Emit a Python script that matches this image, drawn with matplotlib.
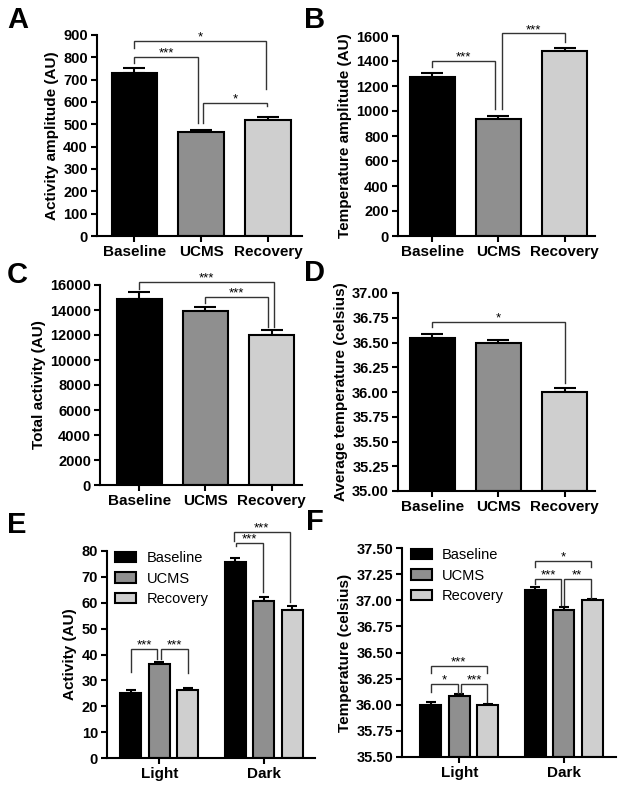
import numpy as np
import matplotlib.pyplot as plt

plt.rcParams['font.family'] = ['Liberation Sans', 'DejaVu Sans']
plt.rcParams['font.weight'] = 'bold'
plt.rcParams['axes.labelweight'] = 'bold'

# ---- data ----
groups = ['Baseline', 'UCMS', 'Recovery']
phases = ['Light', 'Dark']

act_amp = [728, 465, 520]
act_amp_err = [22, 8, 12]

temp_amp = [1275, 935, 1480]
temp_amp_err = [30, 25, 25]

act_total = [14900, 13900, 12000]
act_total_err = [550, 350, 400]

temp_avg = [36.55, 36.50, 36.00]
temp_avg_err = [0.035, 0.03, 0.04]

# per group: [Light, Dark]
act_phase = [[25.3, 75.7], [36.5, 60.6], [26.2, 57.2]]
act_phase_err = [[0.8, 1.7], [0.7, 1.6], [0.8, 1.6]]

temp_phase = [[36.00, 37.10], [36.085, 36.91], [36.00, 37.00]]
temp_phase_err = [[0.025, 0.025], [0.015, 0.025], [0.008, 0.008]]

# significance brackets: (x1, x2, y, leg1 bottom, leg2 bottom, label)
sig_a = [(0, 0.95, 801, 776, 505, '***'),
         (0, 1.97, 873, 841, 657, '*'),
         (1.03, 1.98, 596, 505, 582, '*')]
sig_b = [(0, 0.95, 1400, 1355, 1013, '***'),
         (1.06, 2.0, 1621, 1013, 1549, '***')]
sig_c = [(0, 2.04, 16270, 15650, 12670, '***'),
         (1.0, 1.94, 15070, 14590, 12670, '***')]
sig_d = [(0, 2.0, 36.71, 36.66, 36.09, '*')]
sig_e = [(-0.273, -0.02, 42.0, 33.4, 38.1, '***'),
         (0.015, 0.273, 42.0, 38.1, 32.7, '***'),
         (0.73, 0.995, 83.1, 81.9, 64.3, '***'),
         (0.715, 1.248, 87.3, 84.0, 60.4, '***')]
sig_f = [(-0.275, -0.012, 36.196, 36.125, 36.11, '*'),
         (0.014, 0.269, 36.196, 36.11, 36.03, '***'),
         (-0.275, 0.265, 36.37, 36.30, 36.30, '***'),
         (0.72, 0.977, 37.20, 37.16, 36.955, '***'),
         (1.002, 1.257, 37.20, 36.955, 37.025, '**'),
         (0.72, 1.265, 37.378, 37.32, 37.32, '*')]

colors = ['#000000', '#8f8f8f', '#cfcfcf']

W, H = 624, 793
fig = plt.figure(figsize=(W / 100, H / 100), dpi=100)


def make_ax(left, top, right, bottom):
    ax = fig.add_axes([left / W, 1 - bottom / H, (right - left) / W, (bottom - top) / H])
    for s in ['top', 'right']:
        ax.spines[s].set_visible(False)
    for s in ['left', 'bottom']:
        ax.spines[s].set_linewidth(1.5)
    ax.tick_params(direction='out', length=4.5, width=1.5, labelsize=10.5, pad=2)
    ax.tick_params(axis='x', labelsize=11)
    return ax


def bracket(ax, x1, x2, y, b1, b2, label):
    ax.plot([x1, x1, x2, x2], [b1, y, y, b2], color='#333333', lw=1.0,
            clip_on=False, solid_joinstyle='miter')
    ax.annotate(label, xy=((x1 + x2) / 2, y), xytext=(0, 0.3), textcoords='offset points',
                ha='center', va='baseline', fontsize=9.5, fontweight='normal',
                annotation_clip=False)


def simple_panel(ax, vals, errs, ylim, yticks, ylabel, xlim, capsize, fmt=None):
    x = np.arange(len(groups))
    ax.bar(x, np.array(vals) - ylim[0], bottom=ylim[0], width=0.68, color=colors,
           edgecolor='black', linewidth=1.5, zorder=2)
    ax.errorbar(x, vals, yerr=[np.zeros(len(vals)), errs], fmt='none', ecolor='black',
                elinewidth=1.5, capsize=capsize, capthick=1.5, zorder=1)
    ax.set_xlim(*xlim)
    ax.set_ylim(*ylim)
    ax.set_yticks(yticks)
    if fmt:
        ax.set_yticklabels([fmt % t for t in yticks])
    ax.set_xticks(x)
    ax.set_xticklabels(groups)
    ax.set_ylabel(ylabel, fontsize=11, labelpad=3)


def phase_panel(ax, vals, errs, ylim, yticks, ylabel, xlim, fmt=None):
    x = np.arange(len(phases))
    off = 0.273
    for i, g in enumerate(groups):
        v = np.array(vals[i])
        ax.bar(x + (i - 1) * off, v - ylim[0], bottom=ylim[0], width=0.2, color=colors[i],
               edgecolor='black', linewidth=1.5, zorder=2, label=g)
        ax.errorbar(x + (i - 1) * off, v, yerr=[np.zeros(len(v)), errs[i]], fmt='none',
                    ecolor='black', elinewidth=1.5, capsize=3.5, capthick=1.5, zorder=1)
    ax.set_xlim(*xlim)
    ax.set_ylim(*ylim)
    ax.set_yticks(yticks)
    if fmt:
        ax.set_yticklabels([fmt % t for t in yticks])
    ax.set_xticks(x)
    ax.set_xticklabels(phases)
    ax.set_ylabel(ylabel, fontsize=11, labelpad=3)
    ax.legend(loc='upper left', bbox_to_anchor=(0.04, 1.0), frameon=False,
              prop={'weight': 'normal', 'size': 10.5}, borderaxespad=0, borderpad=0,
              handlelength=1.45, handleheight=0.75, handletextpad=0.7, labelspacing=0.45)


# A
ax = make_ax(97, 35, 302, 236)
simple_panel(ax, act_amp, act_amp_err, (0, 900), np.arange(0, 901, 100),
             'Activity amplitude (AU)', (-0.56, 2.51), 8)
for s in sig_a:
    bracket(ax, *s)

# B
ax = make_ax(398, 36, 595, 236)
simple_panel(ax, temp_amp, temp_amp_err, (0, 1600), np.arange(0, 1601, 200),
             'Temperature amplitude (AU)', (-0.52, 2.46), 8)
for s in sig_b:
    bracket(ax, *s)

# C
ax = make_ax(100, 285, 302, 485)
simple_panel(ax, act_total, act_total_err, (0, 16000), np.arange(0, 16001, 2000),
             'Total activity (AU)', (-0.59, 2.46), 8)
for s in sig_c:
    bracket(ax, *s)

# D
ax = make_ax(398, 293, 595, 491)
simple_panel(ax, temp_avg, temp_avg_err, (35, 37), np.arange(35, 37.01, 0.25),
             'Average temperature (celsius)', (-0.52, 2.46), 8, fmt='%.2f')
for s in sig_d:
    bracket(ax, *s)

# E
ax = make_ax(107, 551, 315, 758)
phase_panel(ax, act_phase, act_phase_err, (0, 80), np.arange(0, 81, 10),
            'Activity (AU)', (-0.50, 1.49))
for s in sig_e:
    bracket(ax, *s)

# F
ax = make_ax(402, 548, 616, 757)
phase_panel(ax, temp_phase, temp_phase_err, (35.5, 37.5), np.arange(35.5, 37.51, 0.25),
            'Temperature (celsius)', (-0.55, 1.50), fmt='%.2f')
for s in sig_f:
    bracket(ax, *s)

# panel letters
for letter, px, py in [('A', 7, 28), ('B', 304, 28), ('C', 7, 283),
                       ('D', 304, 281), ('E', 7, 533), ('F', 306, 530)]:
    fig.text(px / W, 1 - py / H, letter, fontsize=21, fontweight='bold',
             ha='left', va='baseline')

fig.savefig('out.png', dpi=100)
